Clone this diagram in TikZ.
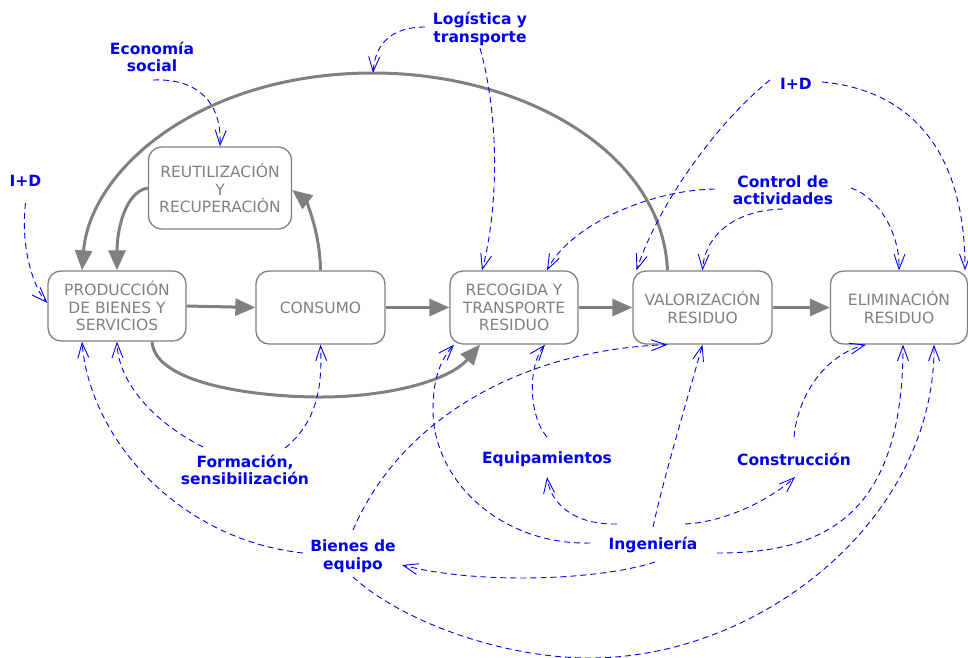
\documentclass[tikz,border=0pt]{standalone}
\usepackage{fontspec}
\setmainfont{DejaVu Sans}
\usetikzlibrary{arrows.meta,calc}
\definecolor{gr}{RGB}{128,128,128}
\definecolor{bl}{RGB}{0,0,240}
\begin{document}
\begin{tikzpicture}[x=1pt,y=-1pt,
 box/.style={draw=gr, line width=1.3pt, rounded corners=13pt, text=gr, align=center, font=\fontsize{15.5}{17.5}\selectfont, inner sep=0pt},
 lab/.style={text=bl, align=center, font=\fontsize{15.5}{17.5}\selectfont\bfseries, inner sep=0pt},
 flow/.style={draw=gr, line width=3pt, -{Triangle[length=20pt,width=17pt]}},
 infl/.style={draw=bl, line width=0.9pt, dash pattern=on 6pt off 4pt, -{Straight Barb[length=15pt,width=11pt]}}]
\path[use as bounding box] (0,0) rectangle (968,657);
% boxes
\node[box, minimum width=138pt, minimum height=70pt] (prod) at (117,306) {PRODUCCIÓN\\DE BIENES Y\\SERVICIOS};
\node[box, minimum width=143pt, minimum height=82pt] (reut) at (220,188) {REUTILIZACIÓN\\Y\\RECUPERACIÓN};
\node[box, minimum width=129pt, minimum height=73pt] (cons) at (320.5,307.5) {CONSUMO};
\node[box, minimum width=128pt, minimum height=73pt] (recog) at (514,307.5) {RECOGIDA Y\\TRANSPORTE\\RESIDUO};
\node[box, minimum width=139pt, minimum height=73pt] (valor) at (702.5,307.5) {VALORIZACIÓN\\RESIDUO};
\node[box, minimum width=137pt, minimum height=73pt] (elim) at (899,307.5) {ELIMINACIÓN\\RESIDUO};
% labels
\node[lab] (econ) at (152,57) {Economía\\social};
\node[lab] (logis) at (480,29) {Logística y\\transporte};
\node[lab] (idl) at (25.5,181) {I+D};
\node[lab] (idr) at (796,84) {I+D};
\node[lab] (ctrl) at (783,190) {Control de\\actividades};
\node[lab] (form) at (245,470) {Formación,\\sensibilización};
\node[lab] (equip) at (547,459) {Equipamientos};
\node[lab] (constr) at (794,459) {Construcción};
\node[lab] (bienes) at (353,556) {Bienes de\\equipo};
\node[lab] (ingen) at (653,545) {Ingeniería};
\coordinate (arctop) at (373,73);
% gray flows
\draw[flow] (prod.east) -- (cons.west);
\draw[flow] (cons.east) -- (recog.west);
\draw[flow] (recog.east) -- (valor.west);
\draw[flow] (valor.east) -- (elim.west);
\draw[flow] (cons.north) .. controls (320,230) and (305,200) .. ($(reut.east)+(0,2)$);
\draw[flow] (reut.west) .. controls (125,192) and (117,230) .. (prod.north);
\draw[flow] ($(valor.north)+(-35,0)$) .. controls (662,150) and (520,73) .. (arctop) .. controls (200,73) and (90,170) .. ($(prod.north)+(-35,0)$);
\draw[flow] ($(prod.south)+(35,0)$) .. controls (155,385) and (260,397) .. (320,397) .. controls (390,397) and (450,380) .. ($(recog.south)+(-34,0)$);
% blue influences
\draw[infl] ($(econ)+(1,23)$) .. controls (200,78) and (222,105) .. (reut.north);
\draw[infl] ($(logis)+(-55,-2)$) .. controls (390,27) and (375,45) .. (arctop);
\draw[infl] ($(logis)+(0,19)$) .. controls (500,120) and (498,210) .. ($(recog.north)+(-32,0)$);
\draw[infl] ($(idl)+(0,22)$) .. controls (20,250) and (35,290) .. ($(prod.west)+(0,-3)$);
\draw[infl] ($(idr)+(-26,-4)$) .. controls (720,120) and (660,200) .. ($(valor.north)+(-66,0)$);
\draw[infl] ($(idr)+(26,-2)$) .. controls (910,90) and (965,150) .. ($(elim.north)+(66,0)$);
\draw[infl] ($(ctrl)+(-68,-1)$) .. controls (650,190) and (570,225) .. ($(recog.north)+(33,0)$);
\draw[infl] ($(ctrl)+(0,19)$) .. controls (735,210) and (705,235) .. (valor.north);
\draw[infl] ($(ctrl)+(68,-2)$) .. controls (880,198) and (900,235) .. (elim.north);
\draw[infl] ($(form)+(-42,-23)$) .. controls (150,420) and (118,380) .. (prod.south);
\draw[infl] ($(form)+(40,-22)$) .. controls (320,420) and (322,380) .. (cons.south);
\draw[infl] ($(bienes)+(-50,-3)$) .. controls (180,540) and (90,440) .. ($(prod.south)+(-35,0)$);
\draw[infl] ($(bienes)+(0,-26)$) .. controls (400,420) and (520,350) .. ($(valor.south)+(-35,0)$);
\draw[infl] ($(bienes)+(0,21)$) .. controls (400,620) and (500,658) .. (590,658) .. controls (760,658) and (935,520) .. ($(elim.south)+(35,0)$);
\draw[infl] ($(ingen)+(-63,-2)$) .. controls (500,545) and (433,480) .. (433,410) .. controls (433,380) and (440,360) .. ($(recog.south)+(-60,0)$);
\draw[infl] ($(ingen)+(-36,-21)$) .. controls (570,525) and (550,500) .. ($(equip)+(0,18)$);
\draw[infl] ($(ingen)+(0,-18)$) .. controls (663,480) and (690,390) .. (valor.south);
\draw[infl] ($(ingen)+(32,-21)$) .. controls (725,522) and (770,500) .. ($(constr)+(1,18)$);
\draw[infl] ($(ingen)+(64,8)$) .. controls (820,553) and (903,520) .. ($(elim.south)+(4,0)$);
\draw[infl] ($(ingen)+(2,17)$) .. controls (600,580) and (480,585) .. ($(bienes)+(49,9)$);
\draw[infl] ($(equip)+(0,-22)$) .. controls (528,415) and (528,365) .. ($(recog.south)+(31,0)$);
\draw[infl] ($(constr)+(0,-22)$) .. controls (798,395) and (825,355) .. ($(elim.south)+(-33,0)$);
\end{tikzpicture}
\end{document}
